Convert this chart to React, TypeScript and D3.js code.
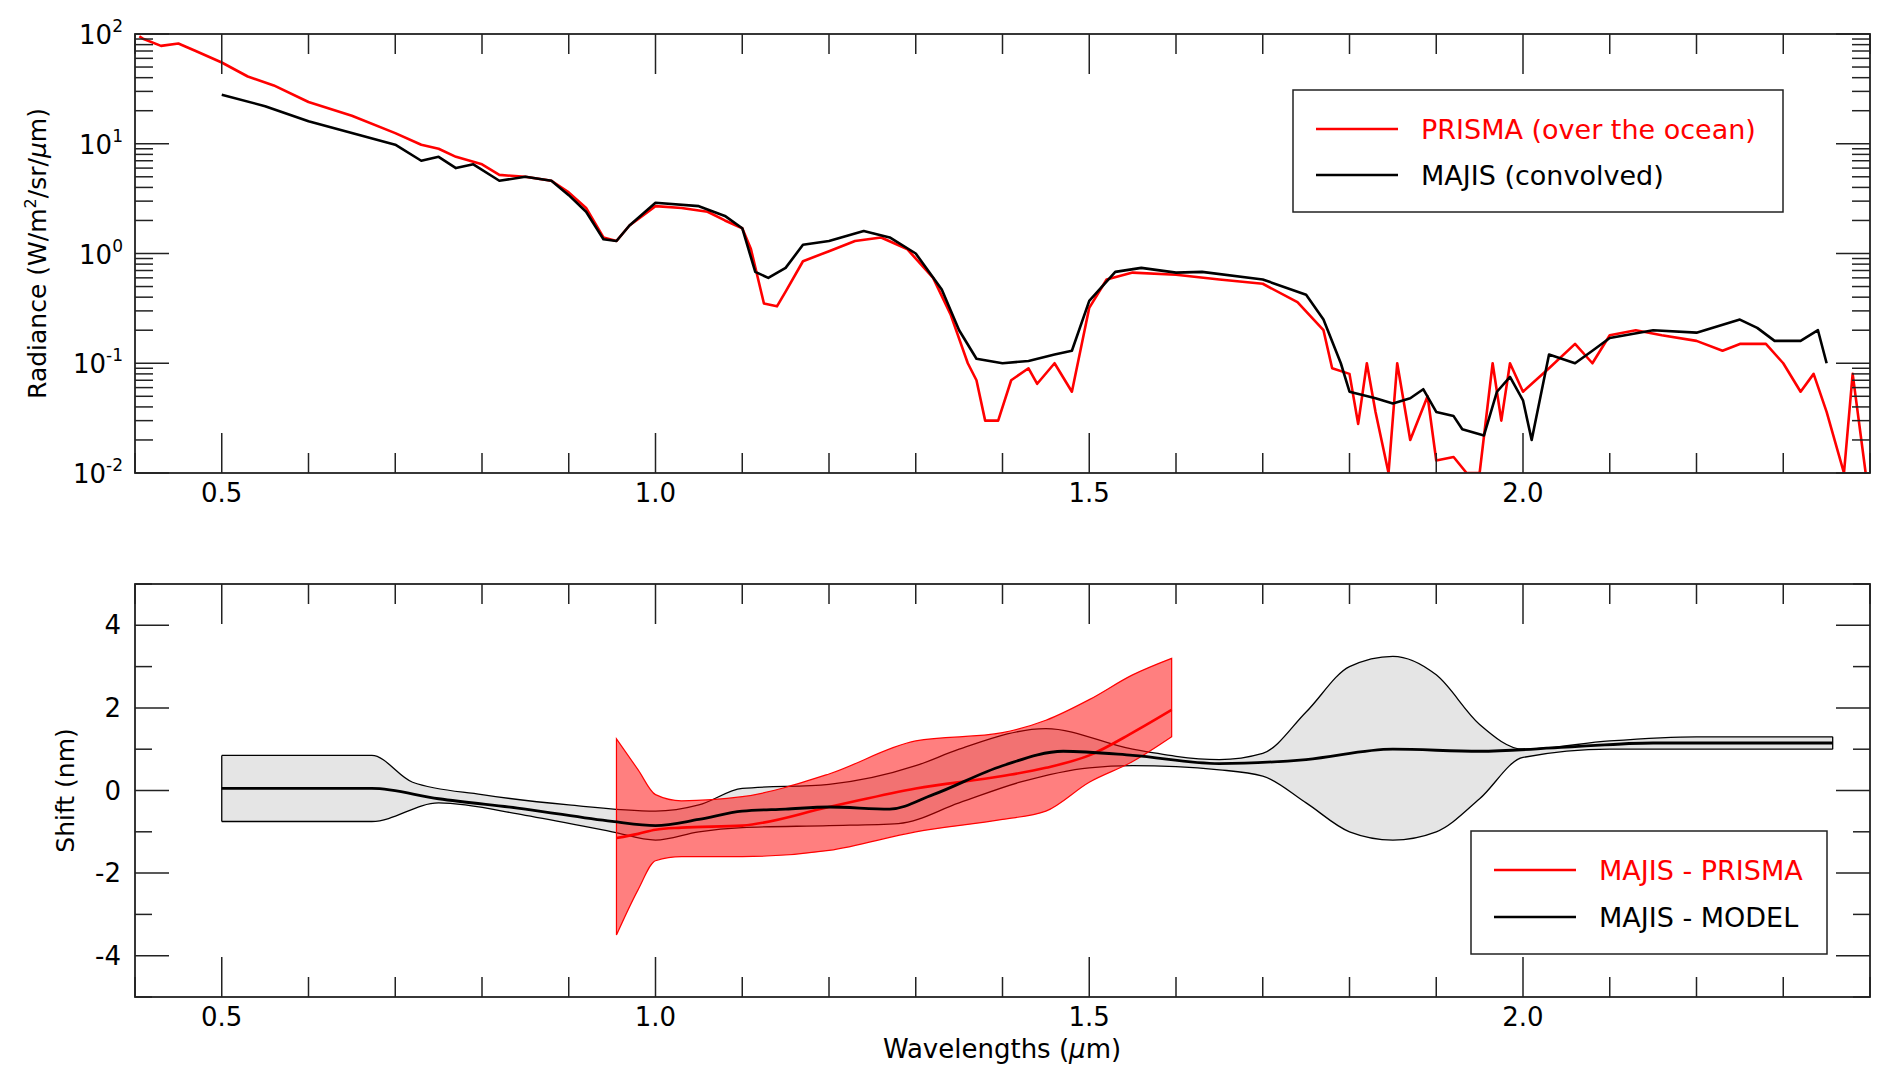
import React from "react";
import * as d3 from "d3";

const prismaWl = [0.405,0.41,0.43,0.45,0.47,0.5,0.53,0.56,0.6,0.65,0.7,0.73,0.75,0.77,0.8,0.82,0.85,0.88,0.9,0.92,0.94,0.955,0.97,1.0,1.03,1.06,1.08,1.1,1.11,1.125,1.14,1.15,1.17,1.2,1.23,1.26,1.29,1.32,1.34,1.36,1.37,1.38,1.395,1.41,1.43,1.44,1.46,1.48,1.5,1.52,1.55,1.6,1.65,1.7,1.74,1.77,1.78,1.8,1.81,1.82,1.83,1.845,1.855,1.87,1.89,1.9,1.92,1.935,1.95,1.965,1.975,1.985,2.0,2.03,2.06,2.08,2.1,2.13,2.16,2.2,2.23,2.25,2.28,2.3,2.32,2.335,2.35,2.37,2.38,2.395];
const prismaVal = [95,90,78,82,70,55,41,34,24,18,12.5,9.8,9,7.6,6.5,5.2,5,4.6,3.6,2.6,1.4,1.3,1.8,2.7,2.6,2.4,2.0,1.7,1.1,0.35,0.33,0.45,0.85,1.05,1.3,1.4,1.1,0.6,0.28,0.1,0.07,0.03,0.03,0.07,0.09,0.065,0.1,0.055,0.32,0.58,0.67,0.64,0.58,0.53,0.36,0.2,0.09,0.08,0.028,0.1,0.036,0.01,0.1,0.02,0.05,0.013,0.014,0.008,0.006,0.1,0.03,0.1,0.055,0.09,0.15,0.1,0.18,0.2,0.18,0.16,0.13,0.15,0.15,0.1,0.055,0.08,0.036,0.01,0.08,0.01];
const majisWl = [0.5,0.55,0.6,0.65,0.7,0.73,0.75,0.77,0.79,0.82,0.85,0.88,0.9,0.92,0.94,0.955,0.97,1.0,1.05,1.08,1.1,1.115,1.13,1.15,1.17,1.2,1.24,1.27,1.3,1.33,1.35,1.37,1.4,1.43,1.46,1.48,1.5,1.53,1.56,1.6,1.63,1.7,1.75,1.77,1.79,1.8,1.83,1.85,1.87,1.885,1.9,1.92,1.93,1.955,1.97,1.985,2.0,2.01,2.03,2.06,2.08,2.1,2.15,2.2,2.25,2.27,2.29,2.32,2.34,2.35];
const majisVal = [28,22,16,12.5,9.8,7,7.6,6,6.5,4.6,5,4.6,3.4,2.4,1.35,1.3,1.8,2.9,2.7,2.2,1.7,0.68,0.6,0.74,1.2,1.3,1.6,1.4,1.0,0.47,0.2,0.11,0.1,0.105,0.12,0.13,0.37,0.68,0.74,0.67,0.68,0.58,0.42,0.25,0.1,0.055,0.048,0.043,0.048,0.058,0.036,0.033,0.025,0.022,0.055,0.075,0.046,0.02,0.12,0.1,0.13,0.17,0.2,0.19,0.25,0.21,0.16,0.16,0.2,0.1];

const modelWl = [0.5,0.6,0.673,0.75,0.85,0.95,1.0,1.05,1.1,1.15,1.2,1.27,1.32,1.4,1.47,1.55,1.65,1.75,1.85,1.95,2.05,2.15,2.25,2.357];
const modelMid = [0.05,0.05,0.05,-0.2,-0.45,-0.75,-0.85,-0.7,-0.5,-0.45,-0.4,-0.45,-0.1,0.6,0.95,0.85,0.65,0.75,1.0,0.95,1.05,1.15,1.15,1.15];
const modelBandWl = [0.5,0.6,0.673,0.72,0.8,0.9,1.0,1.05,1.1,1.2,1.3,1.35,1.45,1.55,1.65,1.7,1.75,1.8,1.85,1.9,1.95,2.0,2.1,2.2,2.357];
const modelUp = [0.85,0.85,0.85,0.2,-0.1,-0.35,-0.5,-0.35,0.05,0.15,0.6,1.0,1.5,1.0,0.75,0.9,1.9,3.0,3.25,2.8,1.6,1.0,1.2,1.3,1.3];
const modelLoWl = [0.5,0.6,0.673,0.75,0.85,0.95,1.0,1.05,1.1,1.2,1.28,1.35,1.42,1.5,1.55,1.65,1.7,1.75,1.8,1.85,1.9,1.95,2.0,2.1,2.2,2.357];
const modelLo = [-0.75,-0.75,-0.75,-0.3,-0.6,-1.0,-1.2,-1.0,-0.9,-0.85,-0.8,-0.3,0.2,0.55,0.6,0.5,0.35,-0.3,-1.0,-1.2,-1.0,-0.2,0.8,1.0,1.0,1.0];

const prWl = [0.955,0.98,1.0,1.03,1.1,1.2,1.3,1.4,1.45,1.5,1.55,1.595];
const prMid = [-1.15,-1.05,-0.95,-0.9,-0.85,-0.4,0.05,0.35,0.55,0.85,1.4,1.95];
const prUp = [1.25,0.5,-0.1,-0.25,-0.15,0.4,1.2,1.4,1.7,2.2,2.8,3.2];
const prLo = [-3.5,-2.4,-1.7,-1.6,-1.6,-1.45,-1.0,-0.7,-0.5,0.2,0.7,1.3];

const xTicks = [0.5, 1.0, 1.5, 2.0];
const shiftTicks = [-4, -2, 0, 2, 4];
const decades = [-2, -1, 0, 1, 2];

const L = 135, R = 1870;
const T1 = 34, B1 = 473, T2 = 584, B2 = 997;
const FONT = "DejaVu Sans";

export default function App() {
  const x = d3.scaleLinear().domain([0.4, 2.4]).range([L, R]);
  const y1 = d3.scaleLog().domain([0.01, 100]).range([B1, T1]).clamp(true);
  const y2 = d3.scaleLinear().domain([-5, 5]).range([B2, T2]);

  const topLine = (wl: number[], v: number[]) =>
    d3.line<number>().x((_, i) => x(wl[i])).y((d) => y1(d))(v) || "";
  const smooth = (wl: number[], v: number[]) =>
    d3.line<number>().curve(d3.curveMonotoneX).x((_, i) => x(wl[i])).y((d) => y2(d))(v) || "";
  const band = (wu: number[], up: number[], wl: number[], lo: number[]) => {
    const a = smooth(wu, up);
    const bRev = d3.line<number>().curve(d3.curveMonotoneX).x((_, i) => x([...wl].reverse()[i])).y((d) => y2(d))([...lo].reverse()) || "";
    return a + "L" + bRev.slice(1) + "Z";
  };

  const minorX = d3.range(4, 25).map((d) => d / 10).filter((d) => Math.abs(d * 2 - Math.round(d * 2)) > 0.01);
  const logMinor: number[] = [];
  for (let e = -2; e < 2; e++) for (let k = 2; k <= 9; k++) logMinor.push(k * Math.pow(10, e));
  const shiftMinor = d3.range(-5, 6).filter((d) => d % 2 !== 0);

  const xTickMarks = (top: number, bot: number) => (
    <g stroke="#222" strokeWidth={1.5}>
      {xTicks.map((t) => (
        <g key={"M" + t}>
          <line x1={x(t)} x2={x(t)} y1={bot} y2={bot - 40} />
          <line x1={x(t)} x2={x(t)} y1={top} y2={top + 40} />
        </g>
      ))}
      {minorX.map((t) => (
        <g key={"m" + t}>
          <line x1={x(t)} x2={x(t)} y1={bot} y2={bot - 20} />
          <line x1={x(t)} x2={x(t)} y1={top} y2={top + 20} />
        </g>
      ))}
    </g>
  );
  const xLabels = (bot: number) =>
    xTicks.map((t) => (
      <text key={t} x={x(t)} y={bot + 29} textAnchor="middle" fontSize={26}>{t.toFixed(1)}</text>
    ));

  return (
    <svg width={1892} height={1080} style={{ position: "absolute", left: 0, top: 0, background: "#fff" }} fontFamily={FONT}>
      <defs>
        <clipPath id="c1"><rect x={L} y={T1} width={R - L} height={B1 - T1} /></clipPath>
        <clipPath id="c2"><rect x={L} y={T2} width={R - L} height={B2 - T2} /></clipPath>
      </defs>
      <g clipPath="url(#c1)" fill="none" strokeWidth={2.6} strokeLinejoin="round">
        <path d={topLine(prismaWl, prismaVal)} stroke="#ff0000" />
        <path d={topLine(majisWl, majisVal)} stroke="#000" />
      </g>
      <rect x={L} y={T1} width={R - L} height={B1 - T1} fill="none" stroke="#222" strokeWidth={1.8} />
      {xTickMarks(T1, B1)}
      {xLabels(B1)}
      <g stroke="#222" strokeWidth={1.5}>
        {decades.map((e) => (
          <g key={e}>
            <line x1={L} x2={L + 34} y1={y1(Math.pow(10, e))} y2={y1(Math.pow(10, e))} />
            <line x1={R} x2={R - 34} y1={y1(Math.pow(10, e))} y2={y1(Math.pow(10, e))} />
          </g>
        ))}
        {logMinor.map((v) => (
          <g key={v}>
            <line x1={L} x2={L + 18} y1={y1(v)} y2={y1(v)} />
            <line x1={R} x2={R - 18} y1={y1(v)} y2={y1(v)} />
          </g>
        ))}
      </g>
      {decades.map((e) => (
        <text key={e} x={L - 12} y={y1(Math.pow(10, e)) + 10} textAnchor="end" fontSize={26}>
          10<tspan dy={-12} fontSize={17}>{e}</tspan>
        </text>
      ))}
      <text transform={`translate(46,${(T1 + B1) / 2}) rotate(-90)`} textAnchor="middle" fontSize={25}>
        Radiance (W/m<tspan dy={-10} fontSize={16}>2</tspan><tspan dy={10}>/sr/</tspan><tspan fontStyle="italic">μ</tspan>m)
      </text>
      <g>
        <rect x={1293} y={90} width={490} height={122} fill="#fff" stroke="#222" strokeWidth={1.5} />
        <line x1={1316} x2={1398} y1={129} y2={129} stroke="#ff0000" strokeWidth={2.6} />
        <text x={1421} y={139} fontSize={27} fill="#ff0000">PRISMA (over the ocean)</text>
        <line x1={1316} x2={1398} y1={175} y2={175} stroke="#000" strokeWidth={2.6} />
        <text x={1421} y={185} fontSize={27}>MAJIS (convolved)</text>
      </g>

      <g clipPath="url(#c2)">
        <path d={band(modelBandWl, modelUp, modelLoWl, modelLo)} fill="#e5e5e5" stroke="none" />
        <path d={smooth(modelBandWl, modelUp)} fill="none" stroke="#000" strokeWidth={1.3} />
        <path d={smooth(modelLoWl, modelLo)} fill="none" stroke="#000" strokeWidth={1.3} />
        <line x1={x(0.5)} x2={x(0.5)} y1={y2(modelUp[0])} y2={y2(modelLo[0])} stroke="#000" strokeWidth={1.3} />
        <line x1={x(2.357)} x2={x(2.357)} y1={y2(modelUp[modelUp.length - 1])} y2={y2(modelLo[modelLo.length - 1])} stroke="#000" strokeWidth={1.3} />
        <path d={band(prWl, prUp, prWl, prLo)} fill="#ff0000" fillOpacity={0.5} stroke="#ff0000" strokeWidth={1.2} />
        <path d={smooth(prWl, prMid)} fill="none" stroke="#ff0000" strokeWidth={2.6} />
        <path d={smooth(modelWl, modelMid)} fill="none" stroke="#000" strokeWidth={2.8} />
      </g>
      <rect x={L} y={T2} width={R - L} height={B2 - T2} fill="none" stroke="#222" strokeWidth={1.8} />
      {xTickMarks(T2, B2)}
      {xLabels(B2)}
      <g stroke="#222" strokeWidth={1.5}>
        {shiftTicks.map((t) => (
          <g key={t}>
            <line x1={L} x2={L + 34} y1={y2(t)} y2={y2(t)} />
            <line x1={R} x2={R - 34} y1={y2(t)} y2={y2(t)} />
          </g>
        ))}
        {shiftMinor.map((t) => (
          <g key={t}>
            <line x1={L} x2={L + 17} y1={y2(t)} y2={y2(t)} />
            <line x1={R} x2={R - 17} y1={y2(t)} y2={y2(t)} />
          </g>
        ))}
      </g>
      {shiftTicks.map((t) => (
        <text key={t} x={L - 14} y={y2(t) + 9} textAnchor="end" fontSize={26}>{t}</text>
      ))}
      <text transform={`translate(74,${(T2 + B2) / 2}) rotate(-90)`} textAnchor="middle" fontSize={25}>Shift (nm)</text>
      <text x={1002} y={1058} textAnchor="middle" fontSize={26}>
        Wavelengths (<tspan fontStyle="italic">μ</tspan>m)
      </text>
      <g>
        <rect x={1471} y={831} width={356} height={123} fill="#fff" stroke="#222" strokeWidth={1.5} />
        <line x1={1494} x2={1576} y1={870} y2={870} stroke="#ff0000" strokeWidth={2.6} />
        <text x={1599} y={880} fontSize={27} fill="#ff0000">MAJIS - PRISMA</text>
        <line x1={1494} x2={1576} y1={917} y2={917} stroke="#000" strokeWidth={2.6} />
        <text x={1599} y={927} fontSize={27}>MAJIS - MODEL</text>
      </g>
    </svg>
  );
}
